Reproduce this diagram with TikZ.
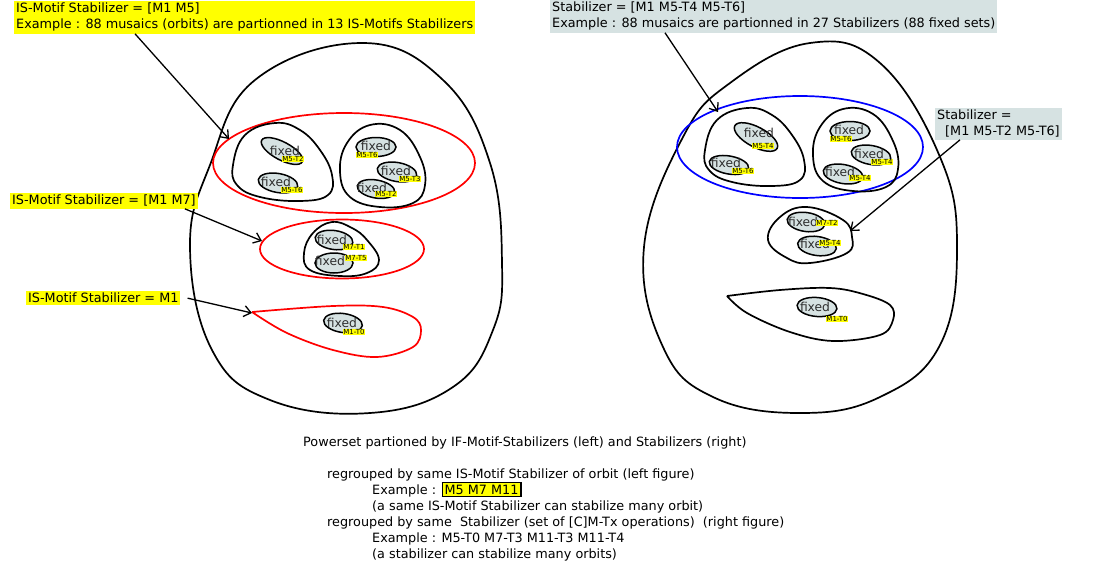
\documentclass[tikz,border=0pt]{standalone}
\usepackage{fontspec}
\setmainfont{DejaVu Sans}
\usetikzlibrary{arrows.meta}
\definecolor{tagyellow}{RGB}{255,255,0}
\definecolor{stabgray}{RGB}{214,226,226}
\definecolor{fixtext}{RGB}{45,45,45}
\setlength{\fboxsep}{1.5pt}
\setlength{\fboxrule}{1.6pt}
\tikzset{
  outline/.style={line width=1.7pt, line join=round},
  motifline/.style={outline, red},
  stabline/.style={outline, blue},
  arrowline/.style={line width=1.3pt, ->},
  fixedset/.style={draw=black, line width=1.5pt, fill=stabgray},
  fixedtxt/.style={font=\fontsize{12.3}{13}\selectfont, text=fixtext, inner sep=0pt},
  optag/.style={fill=tagyellow, font=\fontsize{7}{7.5}\selectfont, inner xsep=0.6pt, inner ysep=0.8pt},
  motiflabel/.style={fill=tagyellow, anchor=north west, align=left, inner xsep=2pt, inner ysep=2pt},
  stablabel/.style={fill=stabgray, anchor=north west, align=left, inner xsep=2pt, inner ysep=2pt},
  note/.style={anchor=base west, inner sep=0pt}
}
\begin{document}
\begin{tikzpicture}[x=1pt,y=-1pt,font=\fontsize{12.8}{16}\selectfont,>={Straight Barb[length=7pt,width=11pt]}]
  \useasboundingbox (0,0) rectangle (1094,579);

  % left powerset (IS-Motif stabilizers)
  \draw[outline] plot[smooth cycle,tension=0.7] coordinates {(362,43) (443,80) (490,163) (502,263) (493,330) (453,387) (370,413) (270,400) (212,350) (190,247) (210,165) (255,80)};
  \draw[motifline] (344,163) ellipse (131 and 50);
  \draw[motifline] (342,249) ellipse (82 and 29.5);
  \draw[motifline] plot[smooth,tension=0.6] coordinates {(252,312) (333,306) (383,307) (413,317) (421,330) (413,347) (377,357) (333,350) (287,333) (252,312)};
  \draw[outline] plot[smooth cycle,tension=0.7] coordinates {(275,123) (300,130) (320,150) (332,175) (328,195) (300,201) (260,197) (237,185) (233,165) (245,135)};
  \draw[outline] plot[smooth cycle,tension=0.7] coordinates {(370,125) (400,130) (420,157) (425,185) (413,203) (380,207) (350,197) (340,172) (347,143)};
  \draw[outline] plot[smooth cycle,tension=0.7] coordinates {(332,222) (352,228) (367,240) (379,260) (367,273) (340,276) (310,270) (304,253) (313,233)};

  \draw[fixedset, rotate around={-28:(282,151)}] (282,151) ellipse (23 and 9);
  \node[fixedtxt] (fxA) at (285,151) {fixed};
  \node[optag] (tgA) at (293,159) {M5-T2};
  \draw[fixedset, rotate around={-10:(278,183)}] (278,183) ellipse (20 and 9.5);
  \node[fixedtxt] (fxB) at (276,182) {fixed};
  \node[optag] (tgB) at (292,190) {M5-T6};
  \draw[fixedset] (376,147) ellipse (20 and 9.5);
  \node[fixedtxt] (fxC) at (376,146) {fixed};
  \node[optag] (tgC) at (367,155) {M5-T6};
  \draw[fixedset, rotate around={-10:(397,172)}] (397,172) ellipse (20 and 9.5);
  \node[fixedtxt] (fxD) at (396,171) {fixed};
  \node[optag] (tgD) at (410,179) {M5-T3};
  \draw[fixedset, rotate around={-10:(376,189)}] (376,189) ellipse (19 and 9);
  \node[fixedtxt] (fxE) at (372,188) {fixed};
  \node[optag] (tgE) at (386,194) {M5-T2};
  \draw[fixedset, rotate around={-8:(334,240)}] (334,240) ellipse (19 and 9.5);
  \node[fixedtxt] (fxF) at (332,240) {fixed};
  \node[optag] (tgF) at (354,247) {M7-T1};
  \draw[fixedset] (334,263) ellipse (19 and 10);
  \node[fixedtxt] (fxG) at (330,261) {fixed};
  \node[optag] (tgG) at (356,258) {M7-T5};
  \draw[fixedset, rotate around={-8:(343,323)}] (343,323) ellipse (19.5 and 9.5);
  \node[fixedtxt] (fxH) at (342,323) {fixed};
  \node[optag] (tgH) at (354,332) {M1-T0};

  % right powerset (stabilizers)
  \draw[outline] plot[smooth cycle,tension=0.7] coordinates {(810,43) (880,63) (940,157) (957,247) (940,345) (880,397) (800,413) (713,397) (663,347) (644,247) (683,137) (730,83)};
  \draw[stabline] (800,147) ellipse (123 and 51);
  \draw[outline] plot[smooth cycle,tension=0.7] coordinates {(747,108) (772,115) (792,135) (804,160) (800,180) (772,186) (732,182) (709,170) (705,150) (717,120)};
  \draw[outline] plot[smooth cycle,tension=0.7] coordinates {(843,109) (873,114) (893,141) (898,169) (886,187) (853,191) (823,181) (813,156) (820,127)};
  \draw[outline] plot[smooth cycle,tension=0.7] coordinates {(807,207) (843,220) (852,237) (847,253) (810,263) (787,258) (768,240) (780,217)};
  \draw[outline] plot[smooth,tension=0.6] coordinates {(727,296) (780,290) (830,288) (863,294) (890,305) (893,320) (880,335) (833,341) (790,332) (747,313) (727,296)};

  \draw[fixedset, rotate around={-28:(756,137)}] (756,137) ellipse (24 and 10);
  \node[fixedtxt] (fxI) at (759,133) {fixed};
  \node[optag] (tgI) at (763,146) {M5-T4};
  \draw[fixedset, rotate around={-10:(729,165)}] (729,165) ellipse (20 and 9);
  \node[fixedtxt] (fxJ) at (726,163) {fixed};
  \node[optag] (tgJ) at (743,171) {M5-T6};
  \draw[fixedset] (850,131) ellipse (20 and 9.5);
  \node[fixedtxt] (fxK) at (849,130) {fixed};
  \node[optag] (tgK) at (841,139) {M5-T6};
  \draw[fixedset, rotate around={-10:(871,155)}] (871,155) ellipse (20 and 9.5);
  \node[fixedtxt] (fxL) at (869,154) {fixed};
  \node[optag] (tgL) at (882,162) {M5-T4};
  \draw[fixedset, rotate around={-10:(843,174)}] (843,174) ellipse (20 and 9.5);
  \node[fixedtxt] (fxM) at (840,172) {fixed};
  \node[optag] (tgM) at (860,178) {M5-T4};
  \draw[fixedset, rotate around={-8:(806,222)}] (806,222) ellipse (19 and 9.5);
  \node[fixedtxt] (fxN) at (803,222) {fixed};
  \node[optag] (tgN) at (827,223) {M7-T2};
  \draw[fixedset, rotate around={-8:(817,246)}] (817,246) ellipse (19.5 and 9.5);
  \node[fixedtxt] (fxO) at (815,244) {fixed};
  \node[optag] (tgO) at (830,243) {M5-T4};
  \draw[fixedset, rotate around={-5:(817,307)}] (817,307) ellipse (20 and 9.5);
  \node[fixedtxt] (fxP) at (815,307) {fixed};
  \node[optag] (tgP) at (837,319) {M1-T0};

  % labels and arrows
  \node[motiflabel] (lblA) at (14,1) {IS-Motif Stabilizer = [M1 M5]\\Example : 88 musaics (orbits) are partionned in 13 IS-Motifs Stabilizers};
  \node[motiflabel] (lblB) at (10,193) {IS-Motif Stabilizer = [M1 M7]};
  \node[motiflabel] (lblC) at (26,291) {IS-Motif Stabilizer = M1};
  \node[stablabel] (lblD) at (550,0) {Stabilizer = [M1 M5-T4 M5-T6]\\Example : 88 musaics are partionned in 27 Stabilizers (88 fixed sets)};
  \node[stablabel] (lblE) at (935,108) {Stabilizer =\\\hspace*{8pt}[M1 M5-T2 M5-T6]};

  \coordinate (tipA) at (229,139);
  \coordinate (tipB) at (262,241);
  \coordinate (tipC) at (252,313);
  \coordinate (tipD) at (718,112);
  \coordinate (tipE) at (850,231);
  \draw[arrowline] ([xshift=121pt]lblA.south west) -- (tipA);
  \draw[arrowline] ([xshift=-13pt]lblB.south east) -- (tipB);
  \draw[arrowline] ([xshift=7pt]lblC.east) -- (tipC);
  \draw[arrowline] ([xshift=115pt]lblD.south west) -- (tipD);
  \draw[arrowline] ([xshift=25pt]lblE.south west) -- (tipE);

  % caption
  \node[note] (ln1) at (303,446) {Powerset partioned by IF-Motif-Stabilizers (left) and Stabilizers (right)};
  \node[note] (ln2) at (327,478) {regrouped by same IS-Motif Stabilizer of orbit (left figure)};
  \node[note] (ln3) at (372,494) {Example : \fcolorbox{black}{tagyellow}{M5 M7 M11}};
  \node[note] (ln4) at (372,510) {(a same IS-Motif Stabilizer can stabilize many orbit)};
  \node[note] (ln5) at (327,526) {regrouped by same\ \ Stabilizer (set of [C]M-Tx operations)\ \ (right figure)};
  \node[note] (ln6) at (372,542) {Example : M5-T0 M7-T3 M11-T3 M11-T4};
  \node[note] (ln7) at (372,558) {(a stabilizer can stabilize many orbits)};
\end{tikzpicture}
\end{document}
